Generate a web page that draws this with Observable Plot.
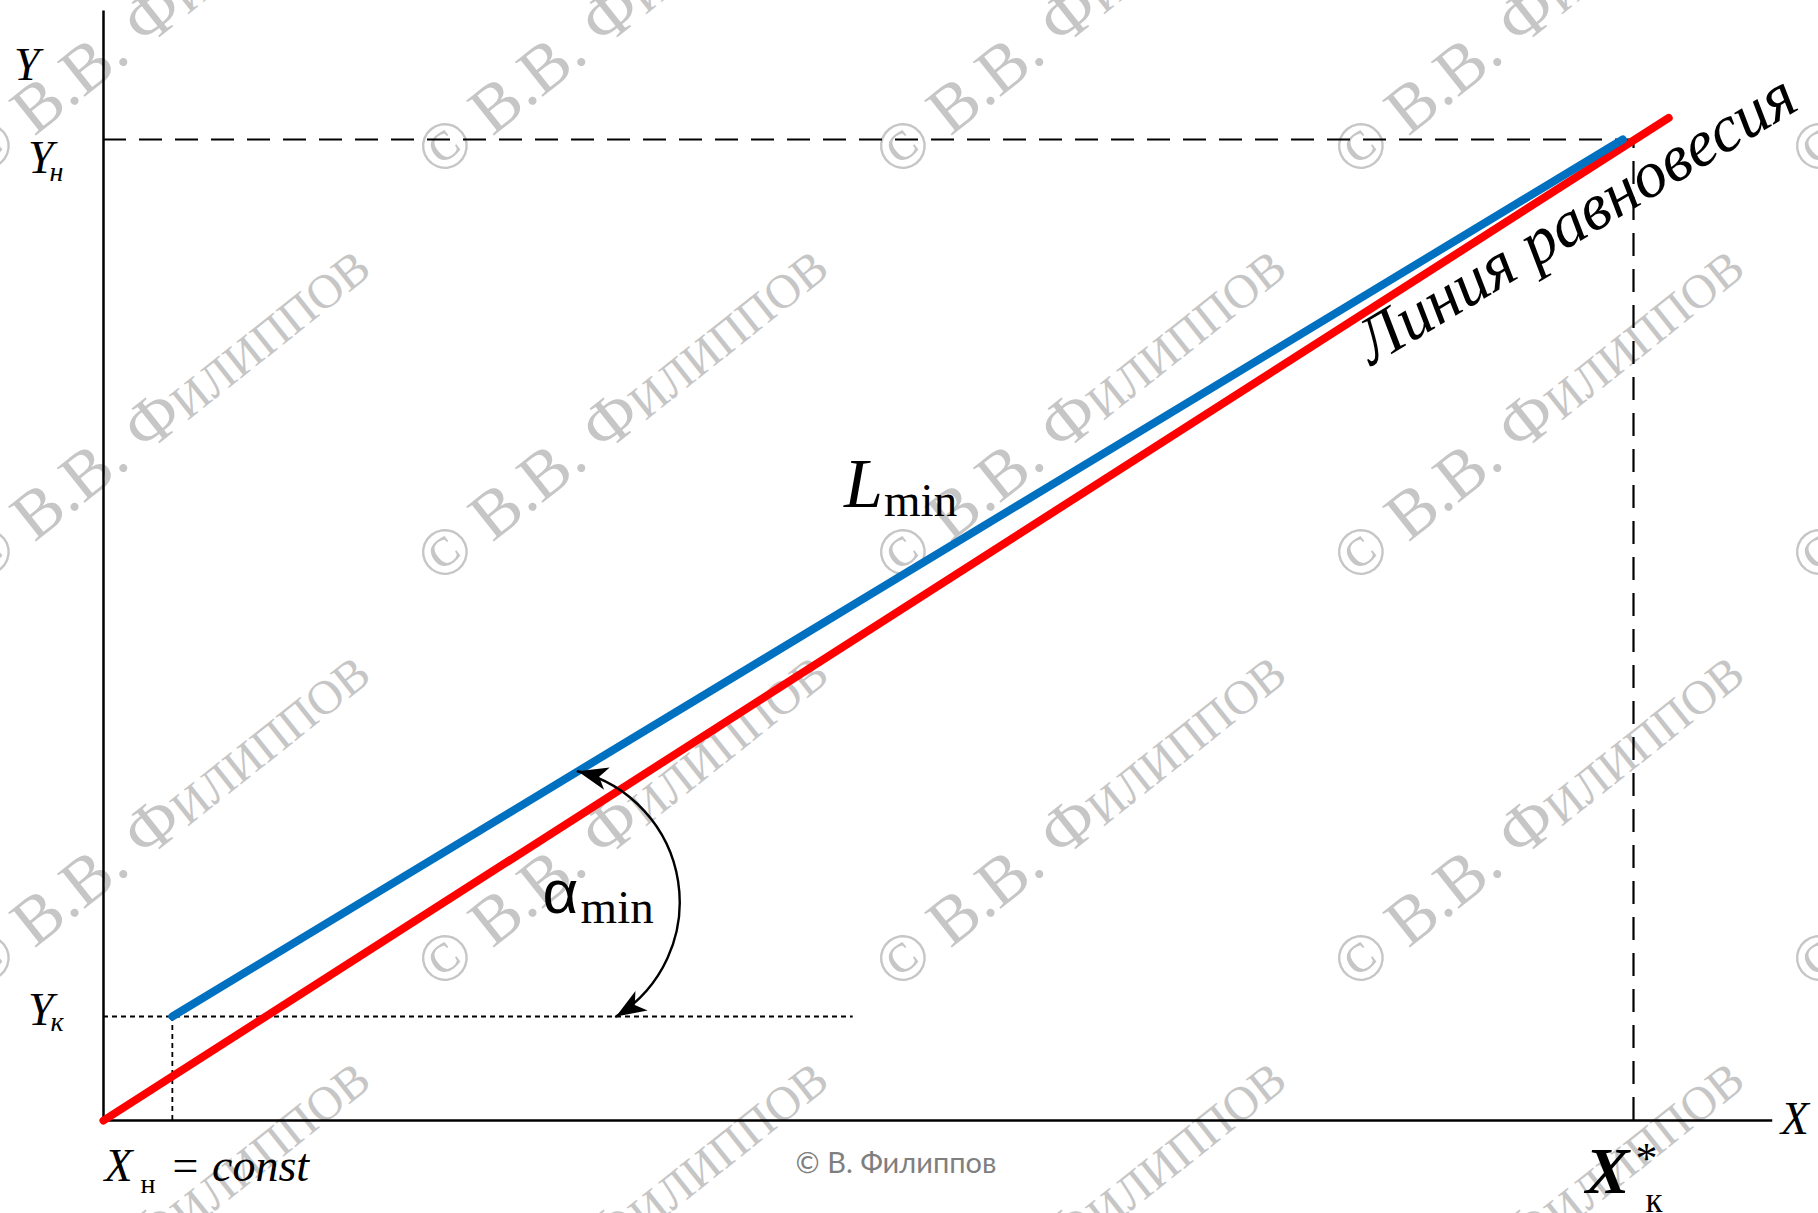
<!DOCTYPE html>
<html>
<head>
<meta charset="utf-8">
<script src="https://cdn.jsdelivr.net/npm/d3@7"></script>
<script src="https://cdn.jsdelivr.net/npm/@observablehq/plot@0.6"></script>
<style>
  html, body { margin: 0; padding: 0; background: #fff; }
  #chart svg { display: block; }
</style>
</head>
<body>
<div id="chart"></div>
<script>
// Dimensionless coordinates: X_н = 0, X_к* = 1, Y_н = 1
const xN = 0;            // X_н = const
const xKstar = 1;        // X_к*
const yN = 1;            // Y_н
const yK = 0.106;        // Y_к
const xFeed = 0.045;     // abscissa at which the L_min line starts
const xAxisEnd = 1.091;
const yAxisEnd = 1.131;
const dottedEnd = 0.49;  // end of the Y_к guide

// Equilibrium line and minimum-flow operating line
const equilibrium = [{x: 0, y: 0}, {x: 1.023, y: 1.022}];
const operatingMin = [{x: 0.045, y: 0.106}, {x: 0.993, y: 1.0}];
// End points of the angle arrow α_min (on the L_min line and on the Y_к guide)
const angleArc = [{x: 0.310, y: 0.356}, {x: 0.335, y: 0.106}];

// Label anchors
const lMinLabel = [{x: 0.484, y: 0.625}];
const alphaLabel = [{x: 0.287, y: 0.212}];
const equilibriumLabel = [{x: 0.829, y: 0.769, text: "Линия равновесия"}];
const creditLabel = [{x: 0.518, y: -0.054, text: "© В. Филиппов"}];

// Frame geometry
const W = 1818, H = 1213;
const mLeft = 103, mRight = 185, mTop = 139, mBottom = 93;
const px2x = (px) => (px - mLeft) / (W - mLeft - mRight);
const py2y = (py) => (H - mBottom - py) / (H - mTop - mBottom);

// Repeated copyright stamp laid over the drawing area
const stamps = [];
for (let j = 0; j < 4; ++j)
  for (let k = 0; k < 5; ++k)
    stamps.push({x: px2x(-20 + 458 * k), y: py2y(179 + 406 * j), text: "© В.В. Филиппов"});

// Circular arc between the first and last point with a given bend angle
function bentArc(bendDeg) {
  const b = bendDeg * Math.PI / 180;
  return (context) => {
    let pts = [];
    return {
      areaStart() {}, areaEnd() {},
      lineStart() { pts = []; },
      point(x, y) { pts.push([+x, +y]); },
      lineEnd() {
        if (pts.length < 2) return;
        const [x1, y1] = pts[0], [x2, y2] = pts[pts.length - 1];
        const dx = x2 - x1, dy = y2 - y1, L = Math.hypot(dx, dy);
        const h = (L / 2) / Math.tan(b);
        const cx = (x1 + x2) / 2 - dy / L * h, cy = (y1 + y2) / 2 + dx / L * h;
        const r = Math.hypot(x1 - cx, y1 - cy);
        context.moveTo(x1, y1);
        context.arc(cx, cy, r, Math.atan2(y1 - cy, x1 - cx), Math.atan2(y2 - cy, x2 - cx), false);
      }
    };
  };
}

// Filled, notched arrowhead
function arrowHead(color, context) {
  const ns = "http://www.w3.org/2000/svg";
  const doc = (context && context.document) || document;
  const m = doc.createElementNS(ns, "marker");
  m.setAttribute("viewBox", "-31 -13 33 26");
  m.setAttribute("markerWidth", 33);
  m.setAttribute("markerHeight", 26);
  m.setAttribute("markerUnits", "userSpaceOnUse");
  m.setAttribute("orient", "auto-start-reverse");
  m.setAttribute("refX", 0);
  m.setAttribute("refY", 0);
  const p = doc.createElementNS(ns, "path");
  p.setAttribute("d", "M0,0L-30,-11.5L-22,0L-30,11.5Z");
  p.setAttribute("fill", color);
  p.setAttribute("stroke", "none");
  m.appendChild(p);
  return m;
}

const serif = "'Liberation Serif', 'Times New Roman', serif";
const sans = "'Liberation Sans', Arial, sans-serif";

function txt(data, opts) {
  return Plot.text(data, {x: "x", y: "y", lineAnchor: "bottom", fontFamily: serif, fill: "black", ...opts});
}

function build(head) {
  return Plot.plot({
    width: W,
    height: H,
    marginLeft: mLeft, marginRight: mRight, marginTop: mTop, marginBottom: mBottom,
    x: {domain: [0, 1], axis: null},
    y: {domain: [0, 1], axis: null},
    style: {background: "white", overflow: "visible"},
    marks: [
      // copyright stamps
      Plot.text(stamps, {x: "x", y: "y", text: "text", textAnchor: "start", lineAnchor: "bottom",
        rotate: -38.5, fontSize: 68, fontFamily: serif, fontVariant: "small-caps", fill: "#c6c6c6"}),

      // Y_н and X_к* guides (dashed)
      Plot.ruleY([yN], {x1: xN, x2: xKstar + 0.006, stroke: "black", strokeWidth: 2.2, strokeDasharray: "23,13"}),
      Plot.ruleX([xKstar], {y1: 0, y2: yN, stroke: "black", strokeWidth: 2.2, strokeDasharray: "23,13"}),
      // Y_к guides (dotted)
      Plot.ruleY([yK], {x1: xN, x2: dottedEnd, stroke: "black", strokeWidth: 1.8, strokeDasharray: "5,4"}),
      Plot.ruleX([xFeed], {y1: 0, y2: yK, stroke: "black", strokeWidth: 1.8, strokeDasharray: "5,4"}),

      // axes
      Plot.ruleX([0], {y1: 0, y2: yAxisEnd, stroke: "black", strokeWidth: 2.5}),
      Plot.ruleY([0], {x1: 0, x2: xAxisEnd, stroke: "black", strokeWidth: 2.5}),

      // equilibrium line and L_min line
      Plot.line(equilibrium, {x: "x", y: "y", stroke: "#ff0000", strokeWidth: 8, strokeLinecap: "round"}),
      Plot.line(operatingMin, {x: "x", y: "y", stroke: "#0070c0", strokeWidth: 8, strokeLinecap: "round"}),

      // angle α_min
      Plot.line(angleArc, {x: "x", y: "y", curve: bentArc(67), stroke: "black", strokeWidth: 2.4,
        markerStart: head, markerEnd: head}),

      // axis names
      txt([{x: 0, y: yAxisEnd}], {text: () => "Y", textAnchor: "end", dx: -64, dy: 69, fontSize: 46, fontStyle: "italic"}),
      txt([{x: xAxisEnd, y: 0}], {text: () => "X", textAnchor: "start", dx: 8, dy: 13, fontSize: 46, fontStyle: "italic"}),

      // Y_н
      txt([{x: 0, y: yN}], {text: () => "Y", textAnchor: "end", dx: -50, dy: 33, fontSize: 46, fontStyle: "italic"}),
      txt([{x: 0, y: yN}], {text: () => "н", textAnchor: "start", dx: -54, dy: 41, fontSize: 28, fontStyle: "italic"}),
      // Y_к
      txt([{x: 0, y: yK}], {text: () => "Y", textAnchor: "end", dx: -50, dy: 8, fontSize: 46, fontStyle: "italic"}),
      txt([{x: 0, y: yK}], {text: () => "к", textAnchor: "start", dx: -53, dy: 14, fontSize: 28, fontStyle: "italic"}),

      // X_н = const
      txt([{x: xN, y: 0}], {text: () => "X", textAnchor: "start", dx: 1, dy: 60, fontSize: 46, fontStyle: "italic"}),
      txt([{x: xN, y: 0}], {text: () => "н", textAnchor: "start", dx: 37, dy: 72, fontSize: 28}),
      txt([{x: xN, y: 0}], {text: () => "= const", textAnchor: "start", dx: 66, dy: 60, fontSize: 46, fontStyle: "italic"}),

      // X_к*
      txt([{x: xKstar, y: 0}], {text: () => "X", textAnchor: "end", dx: -4, dy: 72, fontSize: 66, fontStyle: "italic", fontWeight: "bold"}),
      txt([{x: xKstar, y: 0}], {text: () => "к", textAnchor: "start", dx: 12, dy: 91, fontSize: 35}),
      txt([{x: xKstar, y: 0}], {text: () => "*", textAnchor: "start", dx: 2, dy: 52, fontSize: 44}),

      // L_min
      txt(lMinLabel, {text: () => "L", textAnchor: "start", fontSize: 70, fontStyle: "italic"}),
      txt(lMinLabel, {text: () => "min", textAnchor: "start", dx: 40, dy: 9, fontSize: 47}),

      // α_min
      txt(alphaLabel, {text: () => "α", textAnchor: "start", fontSize: 62, fontFamily: sans}),
      txt(alphaLabel, {text: () => "min", textAnchor: "start", dx: 38, dy: 10, fontSize: 47}),

      // equilibrium line caption
      txt(equilibriumLabel, {text: "text", textAnchor: "start", rotate: -31, fontSize: 66, fontStyle: "italic"}),

      // credit line
      Plot.text(creditLabel, {x: "x", y: "y", text: "text", lineAnchor: "bottom", textAnchor: "middle",
        fontSize: 29, fontFamily: "Lato, 'Open Sans', sans-serif", fill: "#7f7f7f"})
    ]
  });
}

let chart;
try {
  chart = build(arrowHead);
} catch (e) {
  chart = build("arrow");
}
document.getElementById("chart").appendChild(chart);
</script>
</body>
</html>
